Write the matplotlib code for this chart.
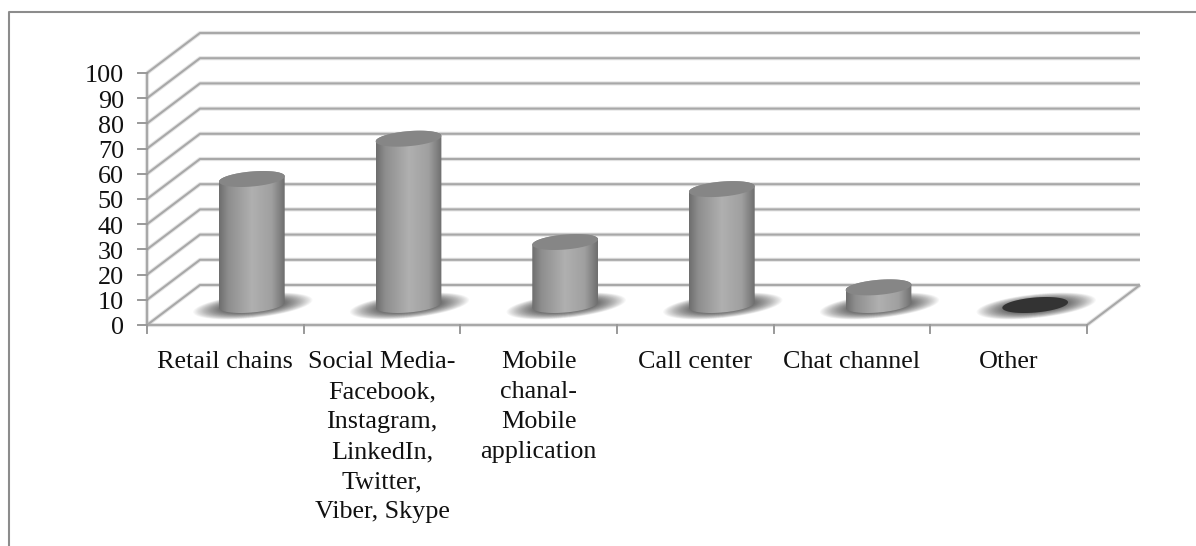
import numpy as np
import matplotlib
matplotlib.use('Agg')
import matplotlib.pyplot as plt
from matplotlib.lines import Line2D
from matplotlib.patches import PathPatch
from matplotlib.path import Path
from matplotlib.colors import LinearSegmentedColormap

# データ
categories = ['Retail chains',
              'Social Media-\nFacebook,\nInstagram,\nLinkedIn,\nTwitter,\nViber, Skype',
              'Mobile\nchanal-\nMobile\napplication',
              'Call center',
              'Chat channel',
              'Other']
values = [50, 66, 25, 46, 7, 0]
y_ticks = list(range(0, 101, 10))

W, H = 1196, 546
plt.rcParams['font.family'] = ['Liberation Serif', 'DejaVu Serif']
FONT = 18.8

fig = plt.figure(figsize=(W / 100, H / 100), dpi=100)
# 前面の軸の位置 (ピクセル)
left, right, bottom_px, top_px = 147, 1087, 325, 73
ax = fig.add_axes([left / W, 1 - bottom_px / H, (right - left) / W, (bottom_px - top_px) / H])
ax.set_xlim(-0.5, 5.5)
ax.set_ylim(0, 100)
ax.axis('off')

# 奥行き (データ単位)
px_x = 6 / (right - left)
px_y = 100 / (bottom_px - top_px)
depth_x = 53 * px_x
depth_y = 40 * px_y

grid_c = '#a8a8a8'

# 外枠 (右と下は画像の端で切れている)
fig.add_artist(Line2D([9 / W, 9 / W, 1], [0, 1 - 12 / H, 1 - 12 / H], transform=fig.transFigure,
                      color='#8c8c8c', lw=1.5))


def soft_line(xs, ys):
    # にじんだ線
    ax.plot(xs, ys, color=grid_c, lw=3.0, alpha=0.3, clip_on=False, zorder=1, solid_capstyle='butt')
    ax.plot(xs, ys, color=grid_c, lw=1.5, clip_on=False, zorder=1, solid_capstyle='butt')


# グリッド
for v in y_ticks:
    soft_line([-0.5, -0.5 + depth_x, 5.5 + depth_x], [v, v + depth_y, v + depth_y])
soft_line([-0.5, 5.5, 5.5 + depth_x], [0, 0, depth_y])
soft_line([-0.5, -0.5], [0, 100])

# 目盛り
for v in y_ticks:
    ax.plot([-0.5 - 9 * px_x, -0.5], [v, v], color='#999999', lw=1.4, clip_on=False)
    ax.text(-0.5 - 23 * px_x, v - 3.5 * px_y, str(v), ha='right', va='center', fontsize=FONT, color='#111111')
for i in range(len(categories) + 1):
    ax.plot([i - 0.5, i - 0.5], [0, -8 * px_y], color='#999999', lw=1.4, clip_on=False)

for i, name in enumerate(categories):
    ax.text(i, -26 * px_y, name, ha='center', va='top', fontsize=FONT, color='#111111', linespacing=1.47)

# 円柱
cyl_cmap = LinearSegmentedColormap.from_list(
    'cyl', [(0, '#6e6e6e'), (0.14, '#8e8e8e'), (0.5, '#b0b0b0'), (0.8, '#a0a0a0'), (0.93, '#808080'), (1, '#6e6e6e')])
grad = np.linspace(0, 1, 128).reshape(1, -1)
half_w = 33 * px_x
half_h = 7.5 * px_y
tilt = 5


def ell_path(cx, cy, w, h, deg, start, stop):
    t = np.radians(np.linspace(start, stop, 60))
    a = np.radians(deg)
    ex, ey = w * np.cos(t), h * np.sin(t)
    # 傾きは px 上で計算する
    x_px, y_px = ex / px_x, ey / px_y
    xr = x_px * np.cos(a) - y_px * np.sin(a)
    yr = x_px * np.sin(a) + y_px * np.cos(a)
    return cx + xr * px_x, cy + yr * px_y


for i, v in enumerate(values):
    cx = i + depth_x / 2
    cy0 = depth_y / 2

    # 影
    for k in np.linspace(1, 0.4, 30):
        sx, sy = ell_path(cx + 1 * px_x, cy0 - 1 * px_y, 60 * k * px_x, 12 * k * px_y, 6, 0, 360)
        ax.fill(sx, sy, color='black', alpha=0.032, lw=0, zorder=2, clip_on=False)

    if v > 0:
        bx, by = ell_path(cx, cy0, half_w, half_h, tilt, 180, 360)
        tx, ty = ell_path(cx, cy0 + v, half_w, half_h, tilt, 0, 180)
        verts = np.column_stack([np.r_[bx, tx], np.r_[by, ty]])
        patch = PathPatch(Path(np.vstack([verts, verts[0]]), closed=True), transform=ax.transData,
                          fc='none', ec='none')
        ax.add_patch(patch)
        im = ax.imshow(grad, cmap=cyl_cmap, vmin=0, vmax=1, aspect='auto', zorder=3,
                       extent=[cx - half_w, cx + half_w, cy0 - 10 * px_y, cy0 + v + 10 * px_y])
        im.set_clip_path(patch)
        top_c = '#868686'
    else:
        top_c = '#333333'
    ex, ey = ell_path(cx, cy0 + v, half_w, half_h, tilt, 0, 360)
    ax.fill(ex, ey, color=top_c, lw=0, zorder=4, clip_on=False)

ax.set_xlim(-0.5, 5.5)
ax.set_ylim(0, 100)
fig.savefig('out.png', dpi=100)
